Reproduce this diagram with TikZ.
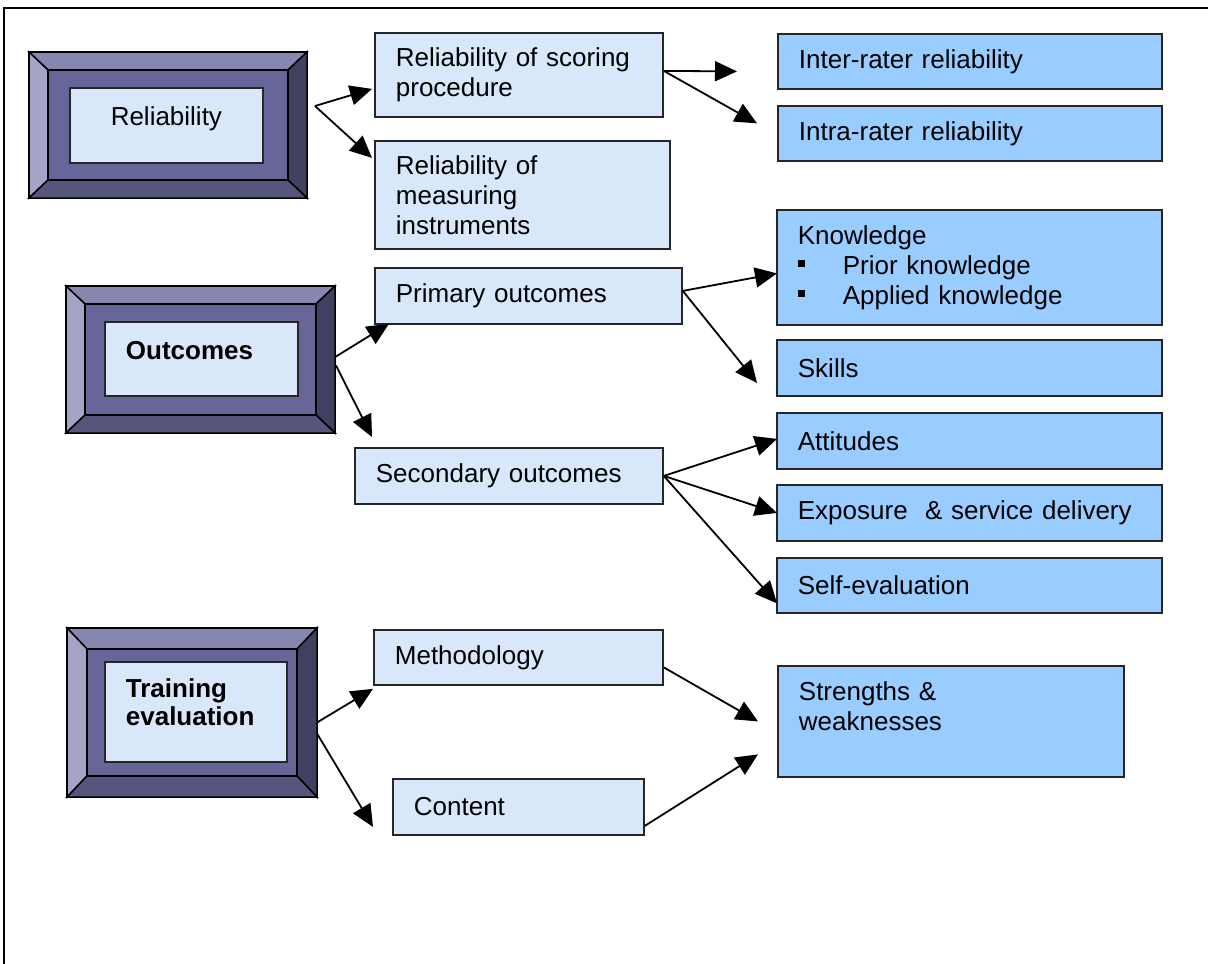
\documentclass[tikz,border=0pt]{standalone}
\usepackage{fontspec}
\setmainfont{Liberation Sans}
\usepackage{tikz}
\usetikzlibrary{arrows.meta, calc, positioning}
\definecolor{lightfill}{RGB}{216,232,250}
\definecolor{bluefill}{RGB}{153,204,255}
\definecolor{bvtop}{RGB}{134,134,174}
\definecolor{bvleft}{RGB}{164,164,199}
\definecolor{bvright}{RGB}{64,64,96}
\definecolor{bvbottom}{RGB}{86,86,124}
\definecolor{bvmid}{RGB}{102,102,152}
\tikzset{
    lightbox/.style={
        draw=black!85, line width=1.8pt, fill=lightfill,
        anchor=north west, inner xsep=21pt, inner ysep=0pt,
        align=left, font=\fontsize{26}{30}\selectfont
    },
    bluebox/.style={lightbox, fill=bluefill},
    bevelout/.style={
        draw=black, line width=1.8pt, anchor=north west,
        inner sep=0pt, outer sep=0pt
    },
    facet/.style={draw=black, line width=1.5pt},
    arr/.style={-{Triangle[length=22pt,width=20pt]}, line width=1.8pt},
}
\newcommand{\bevelbox}[7]{%
    \node[bevelout, minimum width=#4-#2, minimum height=#5-#3] (#1) at (#2,#3) {};
    \filldraw[facet, fill=bvtop] (#1.north west) -- (#1.north east)
        -- ($(#1.north east)+(-#6,#7)$) -- ($(#1.north west)+(#6,#7)$) -- cycle;
    \filldraw[facet, fill=bvleft] (#1.north west) -- ($(#1.north west)+(#6,#7)$)
        -- ($(#1.south west)+(#6,-#7)$) -- (#1.south west) -- cycle;
    \filldraw[facet, fill=bvright] (#1.north east) -- (#1.south east)
        -- ($(#1.south east)+(-#6,-#7)$) -- ($(#1.north east)+(-#6,#7)$) -- cycle;
    \filldraw[facet, fill=bvbottom] (#1.south west) -- (#1.south east)
        -- ($(#1.south east)+(-#6,-#7)$) -- ($(#1.south west)+(#6,-#7)$) -- cycle;
    \filldraw[facet, fill=bvmid] ($(#1.north west)+(#6,#7)$)
        rectangle ($(#1.south east)+(-#6,-#7)$);
}
\newcommand{\sqbullet}{\raisebox{7pt}{\rule{7pt}{7pt}}\hspace{38pt}}

\begin{document}
\begin{tikzpicture}[x=1pt, y=-1pt]
    \useasboundingbox (0,0) rectangle (1208,964);
    \draw[line width=2pt] (4,964) -- (4,8) -- (1208,8);

    \bevelbox{rel}{29}{52}{307}{198}{19}{18}
    \node[lightbox, align=center, text width=151pt, minimum height=75pt]
        (reltxt) at (69,87) {Reliability\\[-12pt]\mbox{}};
    \bevelbox{out}{66}{286}{335}{433}{19}{18}
    \node[lightbox, text width=151pt, minimum height=74pt, font=\fontsize{26}{30}\selectfont\bfseries]
        (outtxt) at (104,321) {Outcomes\\[-14pt]\mbox{}};
    \bevelbox{train}{67}{628}{317}{797}{20}{21}
    \node[lightbox, text width=140pt, minimum height=100pt, font=\fontsize{26}{28}\selectfont\bfseries]
        (traintxt) at (104,661) {Training\\evaluation\\[-8pt]\mbox{}};

    \node[lightbox, text width=246pt, minimum height=84pt] (relscore) at (374,32)
        {Reliability of scoring\\procedure};
    \node[lightbox, text width=253pt, minimum height=108pt] (relmeas) at (374,140)
        {Reliability of\\measuring\\instruments};
    \node[lightbox, text width=265pt, minimum height=56pt] (prim) at (374,267)
        {Primary outcomes};
    \node[lightbox, text width=266pt, minimum height=56pt] (sec) at (354,447)
        {Secondary outcomes};
    \node[lightbox, text width=247pt, minimum height=55pt] (meth) at (373,629)
        {Methodology};
    \node[lightbox, text width=209pt, minimum height=56pt] (cont) at (392,778)
        {Content};

    \node[bluebox, text width=342pt, minimum height=55pt] (inter) at (777,33)
        {Inter-rater reliability};
    \node[bluebox, text width=342pt, minimum height=55pt] (intra) at (777,105)
        {Intra-rater reliability};
    \node[bluebox, text width=343pt, minimum height=115pt] (know) at (776,209)
        {Knowledge\\\sqbullet Prior knowledge\\\sqbullet Applied knowledge};
    \node[bluebox, text width=343pt, minimum height=56pt] (skills) at (776,339)
        {Skills};
    \node[bluebox, text width=343pt, minimum height=56pt] (att) at (776,412)
        {Attitudes};
    \node[bluebox, text width=343pt, minimum height=56pt] (expo) at (776,484)
        {Exposure\ \ \& service delivery};
    \node[bluebox, text width=343pt, minimum height=55pt] (self) at (776,557)
        {Self-evaluation};
    \node[bluebox, text width=304pt, minimum height=111pt] (strength) at (777,665)
        {Strengths \&\\weaknesses\\\mbox{}};

    \draw[arr] ($(rel.east)+(8,-19)$) -- ($(relscore.west)+(-2,14)$);
    \draw[arr] ($(rel.east)+(8,-19)$) -- ($(relmeas.west)+(-2,-37)$);
    \draw[arr] ($(relscore.east)+(0,-4)$) -- ($(inter.west)+(-40,10)$);
    \draw[arr] ($(relscore.east)+(0,-4)$) -- ($(intra.west)+(-20,-10)$);
    \draw[arr] ($(out.east)+(1,-3)$) -- ($(prim.south west)+(15,-1)$);
    \draw[arr] ($(out.east)+(1,6)$) -- ($(sec.north west)+(18,-10)$);
    \draw[arr] ($(prim.east)+(0,-5)$) -- ($(know.west)+(1,6)$);
    \draw[arr] ($(prim.east)+(0,-5)$) -- ($(skills.west)+(-19,15)$);
    \draw[arr] (sec.east) -- ($(att.west)+(1,-2)$);
    \draw[arr] (sec.east) -- ($(expo.west)+(1,0)$);
    \draw[arr] (sec.east) -- ($(self.west)+(1,18)$);
    \draw[arr] ($(train.east)+(0,10)$) -- ($(meth.south west)+(0,3)$);
    \draw[arr] ($(train.east)+(0,21)$) -- ($(cont.west)+(-19,20)$);
    \draw[arr] ($(meth.east)+(0,10)$) -- ($(strength.west)+(-19,0)$);
    \draw[arr] ($(cont.east)+(0,19)$) -- ($(strength.west)+(-19,33)$);
\end{tikzpicture}
\end{document}
